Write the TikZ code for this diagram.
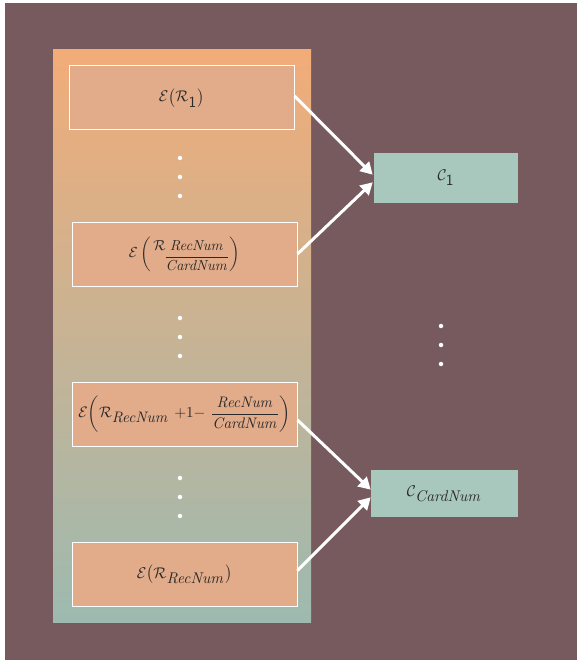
\documentclass[tikz,border=0pt]{standalone}
\usepackage{graphicx}
\usepackage{amsmath}
\usetikzlibrary{arrows.meta}
\definecolor{bgc}{HTML}{765A5E}
\definecolor{colTop}{HTML}{F2AC78}
\definecolor{colBot}{HTML}{9DBAB0}
\definecolor{boxc}{HTML}{E2AC8A}
\definecolor{cboxc}{HTML}{A8C8BE}
\definecolor{txtc}{HTML}{2A2A2A}
\newcommand{\tsub}[1]{_{\textstyle #1}}
\newcommand{\bigtxt}[1]{\scalebox{1.55}{#1}}
\tikzset{
  ebox/.style={draw=white, line width=1pt, fill=boxc, minimum width=225pt, minimum height=64pt, inner sep=0pt, text=txtc},
  cbox/.style={fill=cboxc, inner sep=0pt, text=txtc},
  dotc/.style={circle, fill=white, inner sep=0pt, minimum size=4.5pt},
  arr/.style={draw=white, line width=3pt, -{Triangle[length=12pt,width=13pt]}, shorten >=-1pt}
}
\begin{document}
\begin{tikzpicture}[x=1pt,y=-1pt]
\useasboundingbox (0,0) rectangle (577,660);
\fill[white] (0,0) rectangle (577,660);
\fill[bgc] (5,3) rectangle (577,660);
\shade[top color=colTop, bottom color=colBot] (53,50) rectangle (311,622);
\node[ebox] (b1) at (181.5,98) {\bigtxt{$\mathcal{E}\bigl(\mathcal{R}\tsub{\textsf{1}}\bigr)$}};
\node[ebox] (b2) at (184.5,254) {\scalebox{1.45}{$\mathcal{E}\left(\,\raisebox{1.2ex}{$\mathcal{R}$}\mkern-2mu\raisebox{-0.5ex}{$\dfrac{\mathit{RecNum}}{\mathit{CardNum}}$}\right)$}};
\node[ebox] (b3) at (184.5,414) {\scalebox{1.52}{$\mathcal{E}\!\left(\mathcal{R}\tsub{\mathit{RecNum}}\ {+}1{-}\ \dfrac{\mathit{RecNum}}{\mathit{CardNum}}\right)$}};
\node[ebox] (b4) at (184.5,574.5) {\bigtxt{$\mathcal{E}\bigl(\mathcal{R}\tsub{\mathit{RecNum}}\bigr)$}};
\node[cbox, minimum width=144pt, minimum height=50pt] (c1) at (446,178) {\bigtxt{$\mathcal{C}\tsub{\textsf{1}}$}};
\node[cbox, minimum width=147pt, minimum height=47pt] (c2) at (444.5,493.5) {\bigtxt{$\mathcal{C}\tsub{\mathit{CardNum}}$}};
\foreach \y [count=\i] in {158,177,196,318,337,356,478,497,516} \node[dotc] (d\i) at (180,\y) {};
\foreach \y [count=\i] in {326,345,364} \node[dotc] (e\i) at (441,\y) {};
\coordinate (c1a) at (372,174);
\coordinate (c1b) at (372,183);
\coordinate (c2a) at (370,489);
\coordinate (c2b) at (370,498);
\draw[arr] (b1.east) ++(0,-2) -- (c1a);
\draw[arr] (b2.east) -- (c1b);
\draw[arr] (b3.east) ++(0,6) -- (c2a);
\draw[arr] (b4.east) ++(0,-4) -- (c2b);
\end{tikzpicture}
\end{document}
